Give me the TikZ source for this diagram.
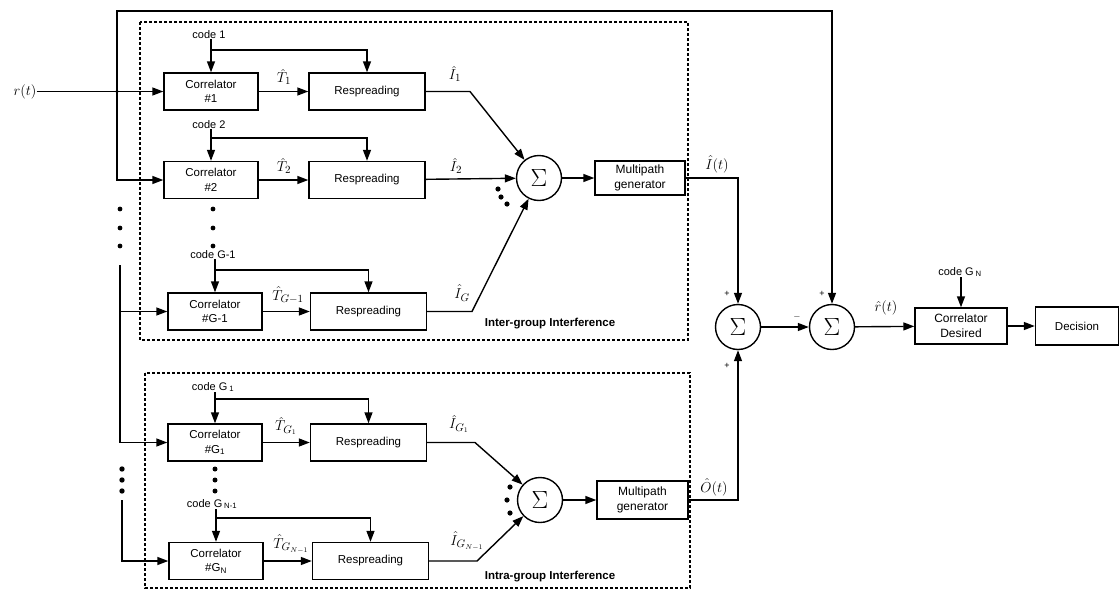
\documentclass[tikz,border=0pt]{standalone}
\usepackage[no-math]{fontspec}
\setmainfont{Liberation Sans}
\usetikzlibrary{arrows.meta,calc}
\begin{document}
\begin{tikzpicture}[x=1pt,y=-1pt,
  wire/.style={line width=1.4pt},
  arr/.style={wire,-{Triangle[length=11pt,width=8pt]}},
  blk/.style={draw,line width=1.4pt,minimum height=37pt,inner sep=1pt,align=center,
    font=\fontsize{11.5}{14.5}\selectfont},
  corrbox/.style={blk,minimum width=94pt},
  respbox/.style={blk,minimum width=116pt},
  mpbox/.style={blk,font=\fontsize{12}{15}\selectfont},
  sumnode/.style={draw,circle,line width=1.4pt,minimum size=45pt,inner sep=0pt,
    font=\fontsize{28}{28}\selectfont},
  group/.style={draw,densely dashed,line width=1.1pt},
  lbl/.style={font=\fontsize{11}{13}\selectfont,inner sep=0pt},
  mlbl/.style={font=\fontsize{15}{17}\selectfont,inner sep=0pt},
  glbl/.style={font=\bfseries\fontsize{11.5}{13}\selectfont,inner sep=0pt},
  sgn/.style={font=\fontsize{9}{9}\selectfont,inner sep=0pt},
  dot/.style={fill=black}
]
\useasboundingbox (0,0) rectangle (1120,592);

% group outlines
\draw[group] (140,22) rectangle (688,340);
\draw[group] (145,373) rectangle (690,588);
\node[glbl] (ginter) at (550,324) {Inter-group Interference};
\node[glbl] (gintra) at (550,577) {Intra-group Interference};

% input
\node[mlbl] (rt) at (25,91.5) {$r(t)$};

% inter-group branches
\node[corrbox] (c1) at (211,91.5) {Correlator\\\#1};
\node[respbox] (r1) at (367,91.5) {Respreading};
\node[corrbox] (c2) at (211,180) {Correlator\\\#2};
\node[respbox] (r2) at (367,180) {Respreading};
\node[corrbox] (cg) at (215,311.5) {Correlator\\\#G-1};
\node[respbox] (rg) at (368.5,311.5) {Respreading};

% intra-group branches
\node[corrbox] (cG1) at (215,442.5) {Correlator\\\#G\textsubscript{1}};
\node[respbox] (rG1) at (368.5,442.5) {Respreading};
\node[corrbox] (cGN) at (216,561) {Correlator\\\#G\textsubscript{N}};
\node[respbox] (rGN) at (370.5,561) {Respreading};

% spreading codes
\node[lbl] (k1) at (209,35) {code 1};
\node[lbl] (k2) at (209,125) {code 2};
\node[lbl] (kg) at (213,255) {code G-1};
\node[lbl] (kG1) at (213,387) {code G\,\textsubscript{1}};
\node[lbl] (kGN) at (212,504) {code G\,\textsubscript{N-1}};

% summers and multipath generators
\node[sumnode] (s1) at (539,178) {$\Sigma$};
\node[mpbox,minimum width=90pt,minimum height=34pt] (m1) at (640,178) {Multipath\\generator};
\node[sumnode] (s2) at (540,500) {$\Sigma$};
\node[mpbox,minimum width=91pt,minimum height=38pt] (m2) at (642.5,500) {Multipath\\generator};
\node[sumnode] (sA) at (738,327) {$\Sigma$};
\node[sumnode] (sB) at (832,327) {$\Sigma$};

% receiver
\node[blk,minimum width=92pt,minimum height=36pt,font=\fontsize{12}{15}\selectfont] (cd) at (961,326) {Correlator\\Desired};
\node[blk,minimum width=83pt,minimum height=38pt] (dec) at (1077,326) {Decision};
\node[lbl] (kd) at (960,272) {code G\,\textsubscript{N}};

% signal labels
\node[mlbl] (tT1) at (284,77) {$\hat T_1$};
\node[mlbl] (tT2) at (284,166) {$\hat T_2$};
\node[mlbl] (tTg) at (288,295) {$\hat T_{G-1}$};
\node[mlbl] (tTG1) at (286,426) {$\hat T_{G_1}$};
\node[mlbl] (tTGN) at (291,544) {$\hat T_{G_{N-1}}$};
\node[mlbl] (tI1) at (455,74) {$\hat I_1$};
\node[mlbl] (tI2) at (456,166) {$\hat I_2$};
\node[mlbl] (tIg) at (462,293) {$\hat I_G$};
\node[mlbl] (tIG1) at (459,424) {$\hat I_{G_1}$};
\node[mlbl] (tIGN) at (467,541) {$\hat I_{G_{N-1}}$};
\node[mlbl] (tIt) at (717,164) {$\hat I(t)$};
\node[mlbl] (tOt) at (714,487) {$\hat O(t)$};
\node[mlbl] (trt) at (886,308) {$\hat r(t)$};

% summer signs
\node[sgn] (pA1) at (727,294) {+};
\node[sgn] (pA2) at (727,366) {+};
\node[sgn] (pB1) at (822,294) {+};
\node[sgn] (pB2) at (797,317) {$-$};

% input bus
\coordinate (J) at (117,91.5);
\coordinate (top) at (117,11);
\draw[arr] (rt) -- (c1);
\draw[arr] (J) -- (top) -| (sB.north);
\draw[arr] (J) |- (c2.west);
\fill (J) circle (1.8);
\coordinate (L1) at (120,265);
\coordinate (L2) at (120,311.5);
\coordinate (L3) at (122,500);
\draw[arr] (L1) |- (cG1.west);
\draw[arr] (L2) -- (cg.west);
\draw[arr] (L3) |- (cGN.west);

% continuation dots
\foreach \yy in {209,228,246} {
  \fill[dot] (120,\yy) circle (2.4);
  \fill[dot] (213,\yy) circle (2.4);
}
\foreach \yy in {469,480,491} {
  \fill[dot] (122,\yy) circle (2.7);
  \fill[dot] (215,\yy) circle (2.5);
}
\foreach \p in {(498,189),(501,197),(507,204),(510,487),(507,500),(510,513)} {
  \fill[dot] \p circle (2.6);
}

% code distribution
\coordinate (b1) at (211,50);
\coordinate (b2) at (211,138);
\coordinate (bg) at (215,270);
\coordinate (bG1) at (215,399);
\coordinate (bGN) at (216,518);
\draw[arr] (k1.south -| c1.north) -- (c1.north);
\draw[arr] (b1) -| (r1.north);
\draw[arr] (k2.south -| c2.north) -- (c2.north);
\draw[arr] (b2) -| (r2.north);
\draw[arr] (kg.south -| cg.north) -- (cg.north);
\draw[arr] (bg) -| (rg.north);
\draw[arr] (kG1.south -| cG1.north) -- (cG1.north);
\draw[arr] (bG1) -| (rG1.north);
\draw[arr] (kGN.south -| cGN.north) -- (cGN.north);
\draw[arr] (bGN) -| (rGN.north);

% correlator to respreading
\draw[arr] (c1) -- (r1);
\draw[arr] (c2) -- (r2);
\draw[arr] (cg) -- (rg);
\draw[arr] (cG1) -- (rG1);
\draw[arr] (cGN) -- (rGN);

% respreading to summers
\coordinate (p1) at (470,91.5);
\coordinate (pg) at (472,311.5);
\coordinate (q1) at (475,442.5);
\coordinate (q2) at (477,561);
\draw[arr] (r1.east) -- (p1) -- (s1);
\draw[arr] (r2) -- (s1);
\draw[arr] (rg.east) -- (pg) -- (s1);
\draw[arr] (rG1.east) -- (q1) -- (s2);
\draw[arr] (rGN.east) -- (q2) -- (s2);

% summers to multipath generators and receiver chain
\draw[arr] (s1) -- (m1);
\draw[arr] (s2) -- (m2);
\draw[arr] (m1.east) -| (sA.north);
\draw[arr] (m2.east) -| (sA.south);
\draw[arr] (sA) -- (sB);
\draw[arr] (sB) -- (cd);
\draw[arr] (cd) -- (dec);
\draw[arr] (kd.south -| cd.north) -- (cd.north);
\end{tikzpicture}
\end{document}
